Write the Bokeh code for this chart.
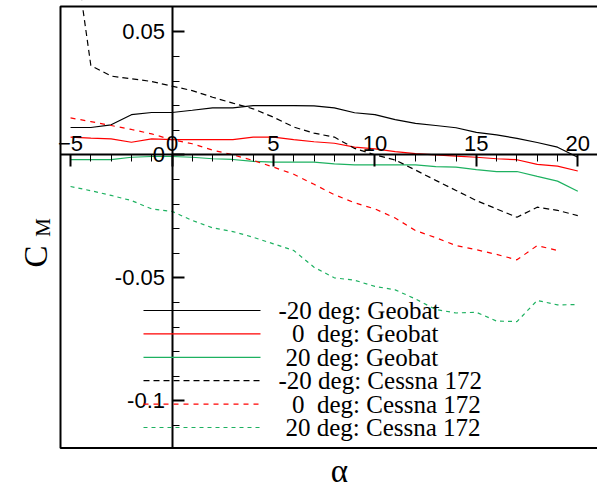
from bokeh.plotting import figure
from bokeh.models import (LinearAxis, FixedTicker, CustomJSTickFormatter, Range1d,
                          Label, BoxAnnotation, Arrow)
from bokeh.embed import file_html
from bokeh.resources import INLINE

# ---------------- data ----------------
alpha = [-5, -4, -3, -2, -1, 0, 1, 2, 3, 4, 5, 6, 7, 8, 9, 10,
         11, 12, 13, 14, 15, 16, 17, 18, 19, 20]
alpha_c0 = alpha[:-1]  # 0 deg Cessna ends at 19

geo_m20 = [0.0111, 0.0111, 0.0122, 0.0163, 0.0172, 0.0172, 0.0181, 0.0191, 0.0191,
           0.0200, 0.0200, 0.0200, 0.0199, 0.0191, 0.0171, 0.0163, 0.0143, 0.0128,
           0.0119, 0.0110, 0.0091, 0.0081, 0.0067, 0.0050, 0.0031, -0.0010]
geo_0 = [0.0072, 0.0068, 0.0065, 0.0051, 0.0065, 0.0062, 0.0062, 0.0062, 0.0062,
         0.0072, 0.0072, 0.0062, 0.0053, 0.0047, 0.0031, 0.0024, 0.0013, 0.0005,
         0.0000, -0.0005, -0.0010, -0.0016, -0.0020, -0.0039, -0.0046, -0.0066]
geo_20 = [-0.0020, -0.0020, -0.0020, -0.0010, -0.0007, -0.0007, -0.0010, -0.0016,
          -0.0019, -0.0027, -0.0030, -0.0030, -0.0030, -0.0037, -0.0041, -0.0041,
          -0.0041, -0.0041, -0.0048, -0.0050, -0.0060, -0.0068, -0.0068, -0.0088,
          -0.0107, -0.0148]
ces_m20 = [0.0950, 0.0363, 0.0320, 0.0309, 0.0298, 0.0279, 0.0261, 0.0234, 0.0210,
           0.0187, 0.0153, 0.0113, 0.0088, 0.0072, 0.0026, 0.0000, -0.0021, -0.0062,
           -0.0104, -0.0145, -0.0186, -0.0220, -0.0254, -0.0213, -0.0226, -0.0247]
ces_0 = [0.0150, 0.0135, 0.0119, 0.0103, 0.0085, 0.0061, 0.0045, 0.0019, 0.0000,
         -0.0023, -0.0050, -0.0079, -0.0120, -0.0162, -0.0195, -0.0220, -0.0257,
         -0.0308, -0.0337, -0.0369, -0.0386, -0.0405, -0.0427, -0.0369, -0.0389]
ces_20 = [-0.0129, -0.0146, -0.0165, -0.0186, -0.0220, -0.0230, -0.0267, -0.0297,
          -0.0312, -0.0335, -0.0362, -0.0389, -0.0457, -0.0500, -0.0510, -0.0535,
          -0.0549, -0.0586, -0.0629, -0.0643, -0.0640, -0.0676, -0.0678, -0.0592,
          -0.0610, -0.0609]

x_ticks = [-5, 0, 5, 10, 15, 20]
x_minor = [-5, -4, -3, -2, -1, 0, 1, 2, 3, 4, 5, 6, 7, 8, 9, 10, 11, 12, 13, 14,
           15, 16, 17, 18, 19, 20, 21]
y_ticks = [-0.1, -0.05, 0.0, 0.05]
y_minor = [-0.11, -0.10, -0.09, -0.08, -0.07, -0.06, -0.05, -0.04, -0.03, -0.02,
           -0.01, 0.0, 0.01, 0.02, 0.03, 0.04, 0.05]

labels = ["-20 deg: Geobat", "0\u00a0 deg: Geobat", "20 deg: Geobat",
          "-20 deg: Cessna 172", "0\u00a0 deg: Cessna 172", "20 deg: Cessna 172"]

BLACK = "#000000"
RED = "#ff0000"
GREEN = "#1db160"

series = [
    (alpha, geo_m20, dict(line_color=BLACK, line_width=1.2)),
    (alpha, geo_0, dict(line_color=RED, line_width=1.2)),
    (alpha, geo_20, dict(line_color=GREEN, line_width=1.2)),
    (alpha, ces_m20, dict(line_color=BLACK, line_width=1.2, line_dash="6 4")),
    (alpha_c0, ces_0, dict(line_color=RED, line_width=1.2, line_dash="5 5")),
    (alpha, ces_20, dict(line_color=GREEN, line_width=1.2, line_dash="4 4")),
]

# ---------------- layout (pixels of the canvas) ----------------
W, H = 597, 487
X0_PX, X_SCALE = 171.5, 20.29     # px of alpha=0, px per degree
Y0_PX, Y_SCALE = 154.3, 2460.0    # px of C_M=0, px per unit


def dx(px):
    return (px - X0_PX) / X_SCALE


def dy(py):
    return (Y0_PX - py) / Y_SCALE


BOX_L, BOX_T, BOX_B = dx(60), dy(6), dy(447.5)

p = figure(width=W, height=H, output_backend="svg", toolbar_location=None,
           x_range=Range1d(dx(0), dx(W)), y_range=Range1d(dy(H), dy(0)),
           x_axis_location=None, y_axis_location=None, min_border=0)
p.title.visible = False
p.grid.grid_line_color = None
p.outline_line_color = None
p.background_fill_color = "white"
p.border_fill_color = "white"

# ---------------- lines ----------------
for xs, ys, style in series:
    p.line(xs, ys, **style)

# mask above the plot box, then the box (left, top, bottom edges)
p.add_layout(BoxAnnotation(left=dx(-20), right=dx(W + 20), bottom=BOX_T,
                           top=dy(-20), fill_color="white", fill_alpha=1,
                           line_color=None, line_alpha=0))
p.add_layout(BoxAnnotation(left=BOX_L, right=dx(W + 20), top=BOX_T, bottom=BOX_B,
                           fill_alpha=0, line_color="black", line_alpha=1,
                           line_width=2))

# axes through the origin
fmt = CustomJSTickFormatter(code="return String(Math.round(tick*100)/100);")
xaxis = LinearAxis(fixed_location=0, bounds=(BOX_L, dx(W)),
                   ticker=FixedTicker(ticks=x_ticks, minor_ticks=x_minor),
                   axis_line_width=2, axis_line_color="black",
                   major_tick_in=12, major_tick_out=0, major_tick_line_width=2,
                   minor_tick_in=7, minor_tick_out=0, minor_tick_line_width=1,
                   major_label_standoff=4,
                   major_label_text_font="Liberation Sans",
                   major_label_text_font_size="22px",
                   major_label_text_color="black")
p.add_layout(xaxis, "above")
yaxis = LinearAxis(fixed_location=0, bounds=(BOX_B, BOX_T),
                   ticker=FixedTicker(ticks=y_ticks, minor_ticks=y_minor),
                   formatter=fmt,
                   axis_line_width=2, axis_line_color="black",
                   major_tick_in=12, major_tick_out=0, major_tick_line_width=2,
                   minor_tick_in=7, minor_tick_out=0, minor_tick_line_width=1,
                   major_label_standoff=7,
                   major_label_text_font="Liberation Sans",
                   major_label_text_font_size="22px",
                   major_label_text_color="black")
p.add_layout(yaxis, "left")

# ---------------- legend (sample line + label per row) ----------------
label_x = [278, 291.5, 285, 278, 291.5, 285]
for i, ((_, _, style), lab, lx) in enumerate(zip(series, labels, label_x)):
    cy = H - (310 + 23.4 * i)
    p.add_layout(Arrow(start=None, end=None, x_start=143, y_start=cy,
                       x_end=260, y_end=cy, start_units="screen",
                       end_units="screen", **style))
    p.add_layout(Label(x=lx, y=cy, x_units="screen", y_units="screen", text=lab,
                       text_font="Liberation Serif", text_font_size="25px",
                       text_align="left", text_baseline="middle",
                       text_color="black"))

# ---------------- axis titles ----------------
p.add_layout(Label(x=35, y=H - 256, x_units="screen", y_units="screen", text="C",
                   angle=90, angle_units="deg", text_font="Liberation Serif",
                   text_font_size="33px", text_align="center",
                   text_baseline="alphabetic", text_color="black"))
p.add_layout(Label(x=42, y=H - 227, x_units="screen", y_units="screen", text="M",
                   angle=90, angle_units="deg", text_font="Liberation Serif",
                   text_font_size="21px", text_align="center",
                   text_baseline="alphabetic", text_color="black"))
p.add_layout(Label(x=339, y=H - 470, x_units="screen", y_units="screen", text="α",
                   text_font="Liberation Serif", text_font_size="33px",
                   text_align="center", text_baseline="alphabetic",
                   text_color="black"))

open("out.html", "w").write(file_html(p, INLINE))
